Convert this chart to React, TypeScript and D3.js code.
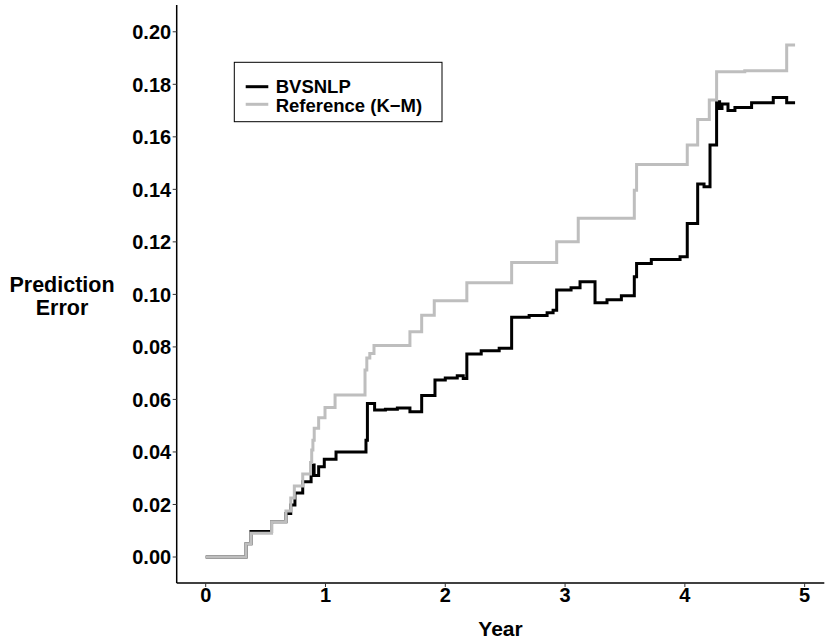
import React from "react";
import * as d3 from "d3";

// Reference (Kaplan-Meier) prediction error curve (step function)
const refTimes = [0, 0.337, 0.378, 0.55, 0.67, 0.71, 0.74, 0.81, 0.875, 0.885, 0.895, 0.906, 0.943, 0.996, 1.08, 1.33, 1.345, 1.37, 1.405, 1.705, 1.803, 1.908, 2.18, 2.554, 2.93, 3.11, 3.578, 3.597, 4.02, 4.107, 4.204, 4.265, 4.5, 4.85, 4.92];
const refValues = [0, 0.005, 0.009, 0.0134, 0.0175, 0.0225, 0.027, 0.0316, 0.036, 0.0407, 0.0445, 0.049, 0.053, 0.0569, 0.0617, 0.0712, 0.0758, 0.0775, 0.0805, 0.0858, 0.0921, 0.0976, 0.1044, 0.1121, 0.120, 0.129, 0.1397, 0.1495, 0.1569, 0.1666, 0.174, 0.1848, 0.1852, 0.195, 0.195];

// BVSNLP prediction error curve (step function)
const bvsTimes = [0, 0.337, 0.378, 0.55, 0.67, 0.71, 0.745, 0.81, 0.88, 0.905, 0.943, 0.99, 1.088, 1.338, 1.35, 1.41, 1.5, 1.6, 1.705, 1.803, 1.914, 2.0, 2.1, 2.15, 2.18, 2.3, 2.45, 2.554, 2.7, 2.85, 2.9, 2.93, 3.05, 3.125, 3.25, 3.35, 3.47, 3.578, 3.597, 3.72, 3.96, 4.02, 4.107, 4.16, 4.21, 4.265, 4.29, 4.31, 4.36, 4.418, 4.557, 4.738, 4.85, 4.92];
const bvsValues = [0, 0.005, 0.0097, 0.0134, 0.0166, 0.0198, 0.0244, 0.0287, 0.035, 0.031, 0.0344, 0.0372, 0.040, 0.0445, 0.0585, 0.056, 0.0563, 0.0567, 0.0553, 0.0615, 0.0674, 0.0682, 0.069, 0.068, 0.0773, 0.0785, 0.0795, 0.0913, 0.092, 0.093, 0.094, 0.1017, 0.1025, 0.1048, 0.0968, 0.098, 0.0995, 0.1067, 0.1118, 0.1133, 0.1143, 0.127, 0.142, 0.141, 0.1569, 0.1734, 0.1708, 0.1725, 0.170, 0.1712, 0.173, 0.175, 0.173, 0.173];

const xTicks = [0, 1, 2, 3, 4, 5];
const yTicks = [0, 0.02, 0.04, 0.06, 0.08, 0.1, 0.12, 0.14, 0.16, 0.18, 0.2];

const seriesNames = ["BVSNLP", "Reference (K\u2212M)"];
const seriesColors = ["#000000", "#bebebe"];

const W = 830;
const H = 642;
const plot = { left: 176.7, right: 824.3, top: 5, bottom: 583 };
const font = "'Liberation Sans', Arial, Helvetica, sans-serif";

export default function App() {
  const x = d3.scaleLinear().domain([-0.242, 5.164]).range([plot.left, plot.right]);
  const y = d3.scaleLinear().domain([-0.0099, 0.2102]).range([plot.bottom, plot.top]);

  const line = d3
    .line<[number, number]>()
    .x((d) => x(d[0]))
    .y((d) => y(d[1]))
    .curve(d3.curveStepAfter);

  const refPts: [number, number][] = refTimes.map((t, i) => [t, refValues[i]]);
  const bvsPts: [number, number][] = bvsTimes.map((t, i) => [t, bvsValues[i]]);

  return (
    <svg
      width={W}
      height={H}
      style={{ position: "absolute", left: 0, top: 0, display: "block", background: "#fff" }}
      fontFamily={font}
    >
      <rect x={0} y={0} width={W} height={H} fill="#ffffff" />
      {/* series */}
      <path d={line(bvsPts) || ""} fill="none" stroke={seriesColors[0]} strokeWidth={3} strokeLinejoin="miter" />
      <path d={line(refPts) || ""} fill="none" stroke={seriesColors[1]} strokeWidth={3} strokeLinejoin="miter" />

      {/* axes lines */}
      <line x1={plot.left} x2={plot.left} y1={plot.top} y2={plot.bottom} stroke="#000" strokeWidth={1.5} />
      <line x1={plot.left} x2={plot.right} y1={plot.bottom} y2={plot.bottom} stroke="#000" strokeWidth={1.5} />

      {/* y ticks */}
      {yTicks.map((t) => (
        <g key={"y" + t}>
          <line x1={plot.left - 4} x2={plot.left} y1={y(t)} y2={y(t)} stroke="#333" strokeWidth={1} />
          <text
            x={plot.left - 5.5}
            y={y(t)}
            dy="0.36em"
            textAnchor="end"
            fontSize={20}
            fontWeight="bold"
            fill="#000"
          >
            {d3.format(".2f")(t)}
          </text>
        </g>
      ))}

      {/* x ticks */}
      {xTicks.map((t) => (
        <g key={"x" + t}>
          <line x1={x(t)} x2={x(t)} y1={plot.bottom} y2={plot.bottom + 4} stroke="#333" strokeWidth={1} />
          <text x={x(t)} y={plot.bottom + 19} textAnchor="middle" fontSize={20} fontWeight="bold" fill="#000">
            {t}
          </text>
        </g>
      ))}

      {/* axis titles */}
      <text x={(plot.left + plot.right) / 2} y={636} textAnchor="middle" fontSize={21} fontWeight="bold" fill="#000">
        Year
      </text>
      <text x={62} y={292.2} textAnchor="middle" fontSize={21.5} fontWeight="bold" fill="#000">
        Prediction
      </text>
      <text x={62} y={315} textAnchor="middle" fontSize={21.5} fontWeight="bold" fill="#000">
        Error
      </text>

      {/* legend */}
      <g>
        <rect x={234.3} y={62.3} width={207.7} height={59.4} fill="#fff" stroke="#000" strokeWidth={1} />
        {seriesNames.map((name, i) => (
          <g key={name}>
            <line
              x1={245.7}
              x2={268.3}
              y1={86.7 + i * 17.6}
              y2={86.7 + i * 17.6}
              stroke={seriesColors[i]}
              strokeWidth={3}
            />
            <text x={275.7} y={93.3 + i * 18.4} fontSize={18.5} fontWeight="bold" fill="#000">
              {name}
            </text>
          </g>
        ))}
      </g>
    </svg>
  );
}
